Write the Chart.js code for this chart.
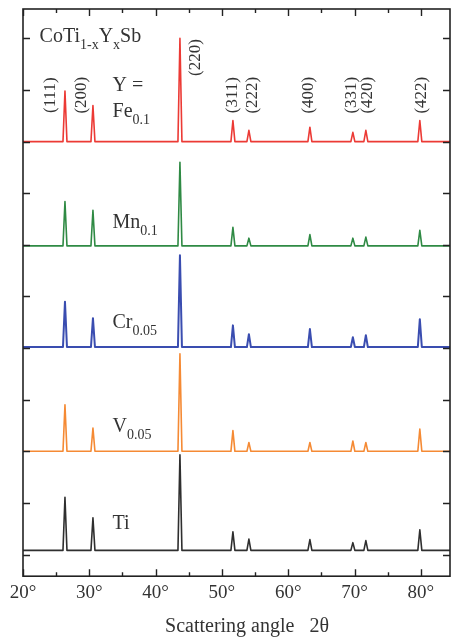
<!DOCTYPE html>
<html>
<head>
<meta charset="utf-8">
<title>CoTi1-xYxSb XRD</title>
<script src="https://cdn.jsdelivr.net/npm/chart.js@4/dist/chart.umd.min.js"></script>
<style>
  html, body { margin: 0; padding: 0; background: #fff; }
  #wrap { width: 451px; height: 639px; }
</style>
</head>
<body>
<div id="wrap"><canvas id="xrd" width="451" height="639"></canvas></div>
<script>
// Reflection positions (2θ, degrees) and their Miller indices
const twoTheta = [26.33, 30.55, 43.67, 51.66, 54.07, 63.27, 69.75, 71.71, 79.85];
const hkl = ['(111)', '(200)', '(220)', '(311)', '(222)', '(400)', '(331)', '(420)', '(422)'];

// Samples, bottom to top, with their offset baselines (arbitrary units)
const samples = ['Ti', 'V', 'Cr', 'Mn', 'Fe'];
const baselines = [0.08, 2.00, 4.02, 5.98, 8.00];

// Peak maxima per sample, one value per reflection above
const peaksTi = [1.11, 0.71, 1.93, 0.44, 0.30, 0.29, 0.23, 0.27, 0.48];
const peaksV  = [2.90, 2.45, 3.89, 2.40, 2.17, 2.17, 2.20, 2.17, 2.43];
const peaksCr = [4.90, 4.58, 5.80, 4.44, 4.27, 4.37, 4.21, 4.25, 4.56];
const peaksMn = [6.84, 6.67, 7.60, 6.34, 6.13, 6.20, 6.13, 6.15, 6.28];
const peaksFe = [8.98, 8.70, 10.00, 8.41, 8.22, 8.28, 8.18, 8.22, 8.41];

// Axis tick values
const angleTicks = [20, 25, 30, 35, 40, 45, 50, 55, 60, 65, 70, 75, 80];
const intensityTicks = [0, 1, 2, 3, 4, 5, 6, 7, 8, 9, 10];

const X_MIN = 20, X_MAX = 84.4, Y_MIN = -0.42, Y_MAX = 10.57;
const FOOT = 0.3; // half width of a reflection at its base

const colors = ['#2f2f2f', '#f58a34', '#3a4db0', '#2f8a44', '#ec3a35'];
const widths = [1.6, 1.6, 2.0, 1.6, 1.6];
const peakSets = [peaksTi, peaksV, peaksCr, peaksMn, peaksFe];

function pattern(base, peaks) {
  const pts = [{ x: X_MIN, y: base }];
  twoTheta.forEach((t, i) => {
    pts.push({ x: t - FOOT, y: base });
    pts.push({ x: t, y: peaks[i] });
    pts.push({ x: t + FOOT, y: base });
  });
  pts.push({ x: X_MAX, y: base });
  return pts;
}

const datasets = samples.map((name, i) => ({
  label: name,
  data: pattern(baselines[i], peakSets[i]),
  borderColor: colors[i],
  borderWidth: widths[i],
  pointRadius: 0,
  tension: 0,
  fill: false,
  borderJoinStyle: 'round'
}));

const SERIF = "'Liberation Serif', 'Times New Roman', serif";
const INK = '#333';

// Text with subscript parts: parts = [[text, isSub], ...]
function drawRich(ctx, x, y, parts, size, subSize, drop) {
  let cx = x;
  ctx.textAlign = 'left';
  ctx.textBaseline = 'alphabetic';
  parts.forEach(([txt, sub]) => {
    ctx.font = (sub ? subSize : size) + 'px ' + SERIF;
    ctx.fillText(txt, cx, sub ? y + drop : y);
    cx += ctx.measureText(txt).width;
  });
}

// Sample and composition labels, anchored in data coordinates
const sampleLabels = [
  { x: 33.5, y: 0.50, parts: [['Ti', false]] },
  { x: 33.5, y: 2.38, parts: [['V', false], ['0.05', true]] },
  { x: 33.5, y: 4.39, parts: [['Cr', false], ['0.05', true]] },
  { x: 33.5, y: 6.32, parts: [['Mn', false], ['0.1', true]] },
  { x: 33.5, y: 8.47, parts: [['Fe', false], ['0.1', true]] },
  { x: 33.5, y: 8.98, parts: [['Y =', false]] },
  { x: 22.5, y: 9.94, parts: [['CoTi', false], ['1-x', true], ['Y', false], ['x', true], ['Sb', false]] }
];
const hklLabelX = [24.1, 28.9, 46.0, 51.6, 54.6, 63.1, 69.6, 72.0, 80.1];
const hklLabelY = [8.9, 8.9, 9.63, 8.9, 8.9, 8.9, 8.9, 8.9, 8.9];

const framePlugin = {
  id: 'frame',
  afterDraw(chart) {
    const { ctx, chartArea: a, scales } = chart;
    const xs = scales.x, ys = scales.y;
    ctx.save();
    ctx.strokeStyle = '#222';
    ctx.lineWidth = 1.6;
    ctx.strokeRect(a.left, a.top, a.right - a.left, a.bottom - a.top);
    ctx.lineWidth = 1.4;
    ctx.beginPath();
    angleTicks.forEach(v => {
      const px = Math.round(xs.getPixelForValue(v)) + 0.5;
      const len = v % 10 === 0 ? 7 : 4;
      ctx.moveTo(px, a.bottom); ctx.lineTo(px, a.bottom - len);
      ctx.moveTo(px, a.top); ctx.lineTo(px, a.top + len);
    });
    intensityTicks.forEach(v => {
      const py = Math.round(ys.getPixelForValue(v)) + 0.5;
      ctx.moveTo(a.left, py); ctx.lineTo(a.left + 7, py);
      ctx.moveTo(a.right, py); ctx.lineTo(a.right - 7, py);
    });
    ctx.stroke();

    ctx.fillStyle = INK;
    // sample labels
    sampleLabels.forEach(l => {
      drawRich(ctx, xs.getPixelForValue(l.x), ys.getPixelForValue(l.y), l.parts, 20, 14, 7);
    });
    // Miller indices, rotated
    ctx.font = '17px ' + SERIF;
    ctx.textAlign = 'center';
    ctx.textBaseline = 'middle';
    hkl.forEach((t, i) => {
      ctx.save();
      ctx.translate(xs.getPixelForValue(hklLabelX[i]), ys.getPixelForValue(hklLabelY[i]));
      ctx.rotate(-Math.PI / 2);
      ctx.fillText(t, 0, 0);
      ctx.restore();
    });
    // x axis title
    ctx.font = '20px ' + SERIF;
    ctx.textAlign = 'center';
    ctx.textBaseline = 'middle';
    ctx.fillText('Scattering angle   2θ', 247, 627);
    ctx.restore();
  }
};

new Chart(document.getElementById('xrd'), {
  type: 'line',
  data: { datasets },
  options: {
    responsive: false,
    animation: false,
    events: [],
    layout: { padding: { left: 23, top: 9, right: 1, bottom: 30 } },
    plugins: { legend: { display: false }, tooltip: { enabled: false } },
    scales: {
      x: {
        type: 'linear',
        min: X_MIN,
        max: X_MAX,
        afterBuildTicks(scale) { scale.ticks = angleTicks.map(v => ({ value: v })); },
        grid: { display: false, drawTicks: false },
        border: { display: false },
        ticks: {
          autoSkip: false,
          maxRotation: 0,
          padding: 5,
          color: INK,
          font: { family: SERIF, size: 19 },
          callback: v => (v % 10 === 0 ? v + '°' : '')
        }
      },
      y: {
        type: 'linear',
        display: false,
        min: Y_MIN,
        max: Y_MAX
      }
    }
  },
  plugins: [framePlugin]
});
</script>
</body>
</html>
